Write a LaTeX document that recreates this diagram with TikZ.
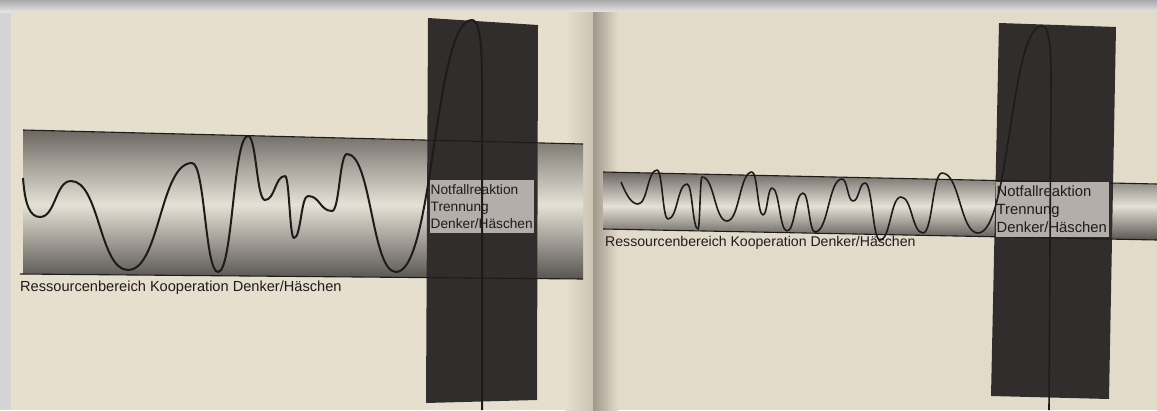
\documentclass[tikz,border=0pt]{standalone}
\usepackage{fontspec}
\setmainfont{Liberation Sans}
\definecolor{paper}{RGB}{231,223,205}
\definecolor{paperR}{RGB}{227,219,202}
\definecolor{frame}{RGB}{212,212,212}
\definecolor{gutter}{RGB}{160,152,140}
\definecolor{boxdark}{RGB}{50,45,45}
\definecolor{labelgray}{RGB}{180,174,170}
\definecolor{banddark}{RGB}{108,103,98}
\definecolor{banddarkB}{RGB}{88,84,80}
\definecolor{bandlight}{RGB}{230,225,214}
\definecolor{ink}{RGB}{30,27,27}
\begin{document}
\begin{tikzpicture}[x=1pt,y=-1pt,
  wave/.style={line width=2pt, ink, line join=round},
  waveR/.style={line width=1.6pt, ink, line join=round},
  bandedge/.style={line width=1.1pt, ink},
  band/.style={top color=banddark, bottom color=banddarkB, middle color=bandlight},
  blackbar/.style={fill=boxdark},
  infobox/.style={anchor=north west, fill=labelgray, inner xsep=0.5pt, inner ysep=0pt, align=left, text=ink},
  caption/.style={anchor=base west, inner sep=0pt, text=ink}]
\useasboundingbox (0,0) rectangle (1157,410);
% photo frame and pages
\fill[frame] (0,0) rectangle (1157,410);
\shade[top color=frame!80!black, bottom color=frame!60!white] (0,0) rectangle (1157,12);
\fill[paper] (11,12) rectangle (593,410);
\fill[paperR] (593,12) rectangle (1157,410);
\shade[left color=paper, right color=paper!88!black] (565,12) rectangle (593,410);
\shade[left color=gutter, right color=paperR] (593,12) rectangle (618,410);

% ---------- left diagram ----------
\shade[band] (23,130) -- (583,144) -- (583,279) -- (23,274) -- cycle;
\fill[blackbar] (428,18) -- (538,25) -- (537,400) -- (426,403) -- cycle;
\draw[bandedge] (23,130) -- (583,144);
\draw[bandedge] (20,274) -- (583,279);
\node[infobox, text width=103pt, minimum height=53pt, font=\fontsize{13.7}{17}\selectfont] (leftbox) at (430,180) {Notfallreaktion\\Trennung\\Denker/Häschen};
\node[caption, font=\fontsize{14.6}{17}\selectfont] (leftlabel) at (20,291) {Ressourcenbereich Kooperation Denker/Häschen};
\draw[wave] (23,178) .. controls (25,205) and (30,217) .. (40,217)
 .. controls (55.5,217) and (55.5,181) .. (71,181)
 .. controls (99.5,181) and (99.5,270) .. (128,270)
 .. controls (160,270) and (160,163) .. (192,163)
 .. controls (205,163) and (205,272) .. (218,272)
 .. controls (233,272) and (233,136) .. (248,136)
 .. controls (256.5,136) and (256.5,200) .. (265,200)
 .. controls (275,200) and (275,176) .. (285,176)
 .. controls (289.5,176) and (289.5,238) .. (294,238)
 .. controls (301,238) and (301,196) .. (308,196)
 .. controls (320,196) and (320,211) .. (332,211)
 .. controls (339.5,211) and (339.5,154) .. (347,154)
 .. controls (371.5,154) and (371.5,272) .. (396,272)
 .. controls (434,272) and (434,20) .. (472,20)
 .. controls (478,20) and (482,35) .. (482,80)
 -- (482,410);

% ---------- right diagram ----------
\shade[band] (603,172) -- (1157,184) -- (1157,240) -- (603,229) -- cycle;
\fill[blackbar] (999,23) -- (1116,27) -- (1109,399) -- (991,396) -- cycle;
\draw[bandedge] (603,172) -- (1157,184);
\draw[bandedge] (603,229) -- (1157,240);
\node[infobox, text width=112pt, minimum height=55pt, font=\fontsize{14.8}{18}\selectfont] (rightbox) at (996,182) {Notfallreaktion\\Trennung\\Denker/Häschen};
\node[caption, font=\fontsize{14.1}{17}\selectfont] (rightlabel) at (605,246) {Ressourcenbereich Kooperation Denker/Häschen};
\draw[waveR] (621,182) .. controls (626,194) and (631,204) .. (638,204)
 .. controls (647.5,204) and (647.5,170) .. (657,170)
 .. controls (662.5,170) and (662.5,219) .. (668,219)
 .. controls (677.5,219) and (677.5,184) .. (687,184)
 .. controls (692.5,184) and (692.5,229) .. (698,229)
 .. controls (700,229) and (700,177) .. (702,177)
 .. controls (714.5,177) and (714.5,221) .. (727,221)
 .. controls (739.5,221) and (739.5,172) .. (752,172)
 .. controls (757.5,172) and (757.5,215) .. (763,215)
 .. controls (767.5,215) and (767.5,188) .. (772,188)
 .. controls (779.5,188) and (779.5,231) .. (787,231)
 .. controls (795,231) and (795,193) .. (803,193)
 .. controls (809,193) and (809,232) .. (815,232)
 .. controls (828.5,232) and (828.5,179) .. (842,179)
 .. controls (847.5,179) and (847.5,201) .. (853,201)
 .. controls (859,201) and (859,183) .. (865,183)
 .. controls (872.5,183) and (872.5,240) .. (880,240)
 .. controls (890.5,240) and (890.5,197) .. (901,197)
 .. controls (912,197) and (912,233) .. (923,233)
 .. controls (932.5,233) and (932.5,173) .. (942,173)
 .. controls (960,173) and (960,233) .. (978,233)
 .. controls (1010,233) and (1010,26) .. (1042,26)
 .. controls (1048,26) and (1051,40) .. (1051,80)
 -- (1049,410);
\end{tikzpicture}
\end{document}
